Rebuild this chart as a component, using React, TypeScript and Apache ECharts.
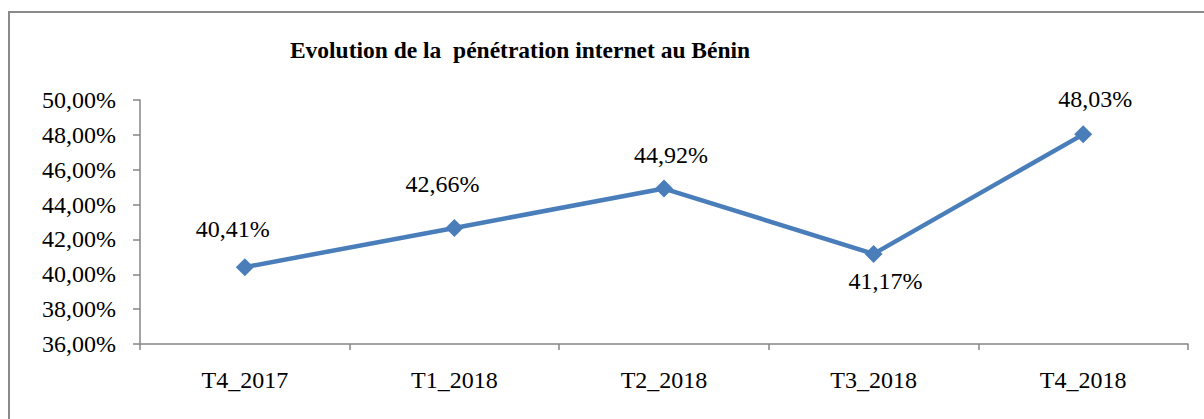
import React, { useEffect, useRef } from "react";
import * as echarts from "echarts";

const titleText = "Evolution de la  pénétration internet au Bénin";
const categories = ["T4_2017", "T1_2018", "T2_2018", "T3_2018", "T4_2018"];
const values = [40.41, 42.66, 44.92, 41.17, 48.03];
const labelOffsets: [number, number][] = [
  [-12, -12],
  [-12, -18],
  [7, -8],
  [12, 1],
  [12, -9],
];
const labelPositions = ["top", "top", "top", "bottom", "top"];

const FONT = "Liberation Serif";
const fmt = (v: number) => v.toFixed(2).replace(".", ",") + "%";

export default function App() {
  const ref = useRef<HTMLDivElement>(null);
  useEffect(() => {
    document.body.style.margin = "0";
    const chart = echarts.init(ref.current!, null, { renderer: "svg" });
    chart.setOption({
      animation: false,
      backgroundColor: "#ffffff",
      textStyle: { fontFamily: FONT, fontSize: 24, color: "#000" },
      graphic: [
        { type: "line", shape: { x1: 9, y1: 12, x2: 9, y2: 419 }, style: { stroke: "#8a8a8a", lineWidth: 2 } },
        { type: "line", shape: { x1: 8, y1: 12, x2: 1204, y2: 12 }, style: { stroke: "#8a8a8a", lineWidth: 2 } },
        {
          type: "text",
          x: 520,
          y: 50,
          style: {
            text: titleText,
            fontFamily: FONT,
            fontSize: 23.5,
            fontWeight: "bold",
            fill: "#000",
            textAlign: "center",
            textVerticalAlign: "middle",
          },
        },
      ],
      grid: { left: 140, right: 16, top: 100, bottom: 75, containLabel: false },
      xAxis: {
        type: "category",
        data: categories,
        boundaryGap: true,
        axisLine: { lineStyle: { color: "#868686", width: 1.5 } },
        axisTick: { show: true, length: 6, lineStyle: { color: "#868686", width: 1.5 } },
        axisLabel: { fontFamily: FONT, fontSize: 24, color: "#000", margin: 24 },
      },
      yAxis: {
        type: "value",
        min: 36,
        max: 50,
        interval: 2,
        splitLine: { show: false },
        axisLine: { show: true, lineStyle: { color: "#868686", width: 1.5 } },
        axisTick: { show: true, length: 7, lineStyle: { color: "#868686", width: 1.5 } },
        axisLabel: {
          fontFamily: FONT,
          fontSize: 24,
          color: "#000",
          margin: 24,
          formatter: (v: number) => fmt(v),
        },
      },
      series: [
        {
          type: "line",
          data: values.map((v, i) => ({
            value: v,
            label: {
              position: labelPositions[i],
              offset: labelOffsets[i],
            },
          })),
          symbol: "diamond",
          symbolSize: 18,
          lineStyle: { color: "#4a7ebb", width: 4.5 },
          itemStyle: { color: "#4a7ebb" },
          label: {
            show: true,
            distance: 5,
            fontFamily: FONT,
            fontSize: 24,
            color: "#000",
            formatter: (p: any) => fmt(p.value),
          },
        },
      ],
    });
    return () => chart.dispose();
  }, []);
  return <div ref={ref} style={{ width: 1204, height: 419 }} />;
}
